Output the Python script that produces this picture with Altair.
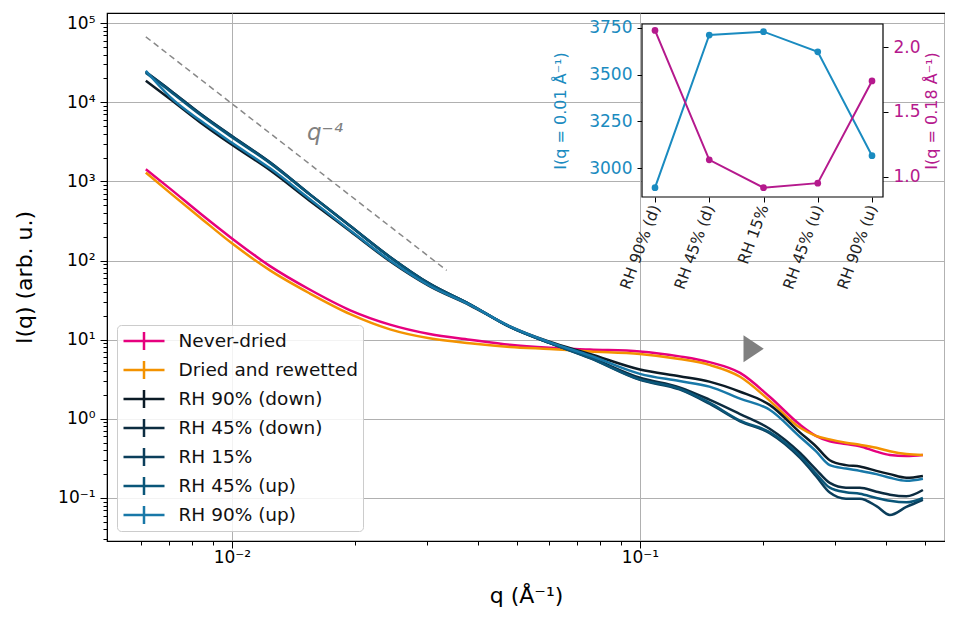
import altair as alt
import pandas as pd

# ---------------- data ----------------
q = [0.00615, 0.00705, 0.00835, 0.0100, 0.0124, 0.0155, 0.0195, 0.0244, 0.0305,
     0.0383, 0.048, 0.060, 0.0754, 0.100, 0.125, 0.148, 0.176, 0.208, 0.247,
     0.27, 0.292, 0.32, 0.346, 0.38, 0.41, 0.45, 0.494]

never_dried = [1420, 810, 395, 190, 85, 43, 23.5, 15.5, 11.8, 10.0, 8.6, 7.9, 7.5,
               7.1, 6.15, 5.2, 3.8, 1.9, 0.84, 0.61, 0.52, 0.48, 0.45, 0.385,
               0.35, 0.34, 0.35]
dried_rewetted = [1290, 715, 350, 165, 75, 38.5, 21, 13.5, 10.4, 9.0, 8.1, 7.6,
                  7.1, 6.6, 5.7, 4.8, 3.4, 1.7, 0.77, 0.61, 0.55, 0.50, 0.47,
                  0.43, 0.39, 0.36, 0.35]
rh90_down = [18700, 11000, 5600, 2900, 1380, 570, 234, 98, 47.5, 27.2, 14.7, 9.4,
             6.6, 4.2, 3.45, 2.95, 2.2, 1.5, 0.67, 0.45, 0.30, 0.26, 0.25, 0.22,
             0.20, 0.18, 0.19]
rh45_down = [24000, 14200, 7200, 3710, 1730, 690, 273, 111, 51, 28, 14.5, 9.1,
             6.0, 3.3, 2.5, 1.75, 1.15, 0.75, 0.37, 0.23, 0.155, 0.135, 0.135,
             0.12, 0.11, 0.105, 0.126]
rh15 = [24100, 14200, 7200, 3730, 1740, 690, 273, 111, 51, 28, 14.5, 9.1, 5.85,
        3.1, 2.35, 1.55, 0.93, 0.66, 0.32, 0.19, 0.117, 0.098, 0.098, 0.079,
        0.061, 0.077, 0.095]
rh45_up = [23400, 13800, 7000, 3620, 1700, 685, 272, 110, 50.5, 28, 14.5, 9.1,
           5.9, 3.15, 2.4, 1.6, 0.95, 0.68, 0.34, 0.205, 0.135, 0.118, 0.113,
           0.10, 0.092, 0.088, 0.10]
rh90_up = [25000, 11700, 5900, 3070, 1460, 600, 240, 100, 48, 27.5, 14.7, 9.3,
           6.3, 3.7, 3.0, 2.55, 1.8, 1.3, 0.59, 0.39, 0.26, 0.235, 0.22, 0.20,
           0.18, 0.165, 0.175]

names = ["Never-dried", "Dried and rewetted", "RH 90% (down)", "RH 45% (down)",
         "RH 15%", "RH 45% (up)", "RH 90% (up)"]
series = [never_dried, dried_rewetted, rh90_down, rh45_down, rh15, rh45_up, rh90_up]
colors = ["#e6007e", "#f39200", "#0b1b26", "#0c2c40", "#0b3e5b", "#0a5679", "#1878a8"]

guide_q = [0.00615, 0.0336]
guide_I = [67000, 75]

inset_cats = ["RH 90% (d)", "RH 45% (d)", "RH 15%", "RH 45% (u)", "RH 90% (u)"]
inset_low = [2895, 3712, 3730, 3622, 3066]
inset_high = [2.13, 1.13, 0.915, 0.95, 1.74]

# ---------------- tables ----------------
rows = []
for name, vals in zip(names, series):
    for qi, vi in zip(q, vals):
        rows.append({"series": name, "q": qi, "I": vi})
df = pd.DataFrame(rows)
guide_df = pd.DataFrame({"q": guide_q, "I": guide_I})
inset_df = pd.DataFrame({"cat": inset_cats, "low": inset_low, "high": inset_high})

# ---------------- geometry ----------------
W, H = 838, 528
QMIN, QMAX = 0.00494, 0.5596
IMIN, IMAX = 0.0286, 1.34e5
BLUE = "#1a8bc0"
MAG = "#b5198d"
FONT = "DejaVu Sans"

major = "abs(log(datum.value)/LN10 - round(log(datum.value)/LN10)) < 0.001"
sup = "['⁻²','⁻¹','⁰','¹','²','³','⁴','⁵']"
label_expr = f"({major}) ? '10' + {sup}[round(log(datum.value)/LN10) + 2] : ''"

x_ticks = [m * 0.001 for m in range(6, 10)] + [m * 0.01 for m in range(1, 10)] + \
          [m * 0.1 for m in range(1, 6)]
y_ticks = []
for k in range(-2, 5):
    for m in range(1, 10):
        v = m * 10 ** k
        if IMIN <= v <= IMAX:
            y_ticks.append(v)
y_ticks.append(1e5)

common_axis = dict(
    labelExpr=label_expr, grid=True, gridColor="#b0b0b0", gridWidth=1,
    gridOpacity={"condition": {"test": major, "value": 1}, "value": 0},
    tickSize={"condition": {"test": major, "value": 7}, "value": 4},
    tickColor="black", domainColor="black", labelColor="black", titleColor="black",
    labelFontSize=17, titleFontSize=22, titleFontWeight="normal",
    labelOverlap=False, labelFlush=False, labelFont=FONT, titleFont=FONT,
)
xaxis = alt.Axis(values=x_ticks, title="q (Å⁻¹)", orient="bottom",
                 labelPadding=1, titlePadding=20, **common_axis)
yaxis = alt.Axis(values=y_ticks, title="I(q) (arb. u.)", orient="left",
                 labelPadding=5, titlePadding=21, **common_axis)

xs = alt.Scale(type="log", domain=[QMIN, QMAX], nice=False)
ys = alt.Scale(type="log", domain=[IMIN, IMAX], nice=False)

lines = alt.Chart(df).mark_line(strokeWidth=2.5, interpolate="monotone", clip=True).encode(
    x=alt.X("q:Q", scale=xs, axis=xaxis),
    y=alt.Y("I:Q", scale=ys, axis=yaxis),
    color=alt.Color(
        "series:N",
        scale=alt.Scale(domain=names, range=colors),
        sort=names,
        legend=alt.Legend(
            title=None, orient="none", legendX=10, legendY=312,
            fillColor="rgba(255,255,255,0.85)", strokeColor="#cccccc", cornerRadius=4,
            padding=5, labelFontSize=18.5, labelFont=FONT, labelColor="#111111",
            labelLimit=300, symbolType="M-1,0L1,0M0,-0.44L0,0.44", symbolSize=1681,
            symbolStrokeWidth=2.5, clipHeight=22, rowPadding=7, symbolOffset=0,
            labelOffset=12.5,
        ),
    ),
)

guide = alt.Chart(guide_df).mark_line(color="#888888", strokeDash=[6, 4], strokeWidth=1.5).encode(
    x="q:Q", y="I:Q")

qtext = alt.Chart(pd.DataFrame({"q": [0.0169], "I": [4100], "t": ["q⁻⁴"]})).mark_text(
    fontSize=23, fontStyle="italic", color="#808080", font=FONT).encode(
    x="q:Q", y="I:Q", text="t:N")

tri = alt.Chart(pd.DataFrame({"q": [0.19], "I": [7.7]})).mark_point(
    shape="M-0.75,-1L0.75,0L-0.75,1Z", size=729, filled=True, color="#808080", opacity=1).encode(
    x="q:Q", y="I:Q")

main = alt.layer(lines, guide, qtext, tri)

# ---------------- inset ----------------
IL, IR, IT, IB = 535, 776, 11, 184
inset_x_axis = alt.Axis(orient="bottom", offset=-(H - IB), title=None, labelAngle=290,
                        labelAlign="right", labelBaseline="middle", labelFontSize=15.5,
                        labelColor="#222222", labelFont=FONT, tickSize=5, tickColor="black",
                        labelPadding=3, domain=False, grid=False)
xs_in = alt.Scale(domain=inset_cats, range=[548, 765], padding=0)

frame = alt.Chart(pd.DataFrame({"a": [0]})).mark_rect(
    fill="white", stroke="black", strokeWidth=1.2).encode(
    x=alt.value(IL), x2=alt.value(IR), y=alt.value(IT), y2=alt.value(IB))

blue = alt.Chart(inset_df).mark_line(
    color=BLUE, strokeWidth=2,
    point=alt.OverlayMarkDef(color=BLUE, size=45, filled=True, opacity=1)).encode(
    x=alt.X("cat:N", sort=inset_cats, scale=xs_in, axis=inset_x_axis),
    y=alt.Y("low:Q", scale=alt.Scale(domain=[2845, 3771], range=[IB, IT], nice=False, zero=False),
            axis=alt.Axis(orient="left", offset=-IL, values=[3000, 3250, 3500, 3750], format="d",
                          title="I(q = 0.01 Å⁻¹)", titleColor=BLUE, titleFontSize=16,
                          titleFontWeight="normal", titleFont=FONT, labelColor=BLUE,
                          labelFontSize=17, labelFont=FONT, tickSize=5, tickColor="black",
                          labelPadding=5, titlePadding=20, domain=False, grid=False)),
)

magenta = alt.Chart(inset_df).mark_line(
    color=MAG, strokeWidth=2,
    point=alt.OverlayMarkDef(color=MAG, size=45, filled=True, opacity=1)).encode(
    x=alt.X("cat:N", sort=inset_cats, scale=xs_in, axis=inset_x_axis),
    y=alt.Y("high:Q", scale=alt.Scale(domain=[0.843, 2.18], range=[IB, IT], nice=False, zero=False),
            axis=alt.Axis(orient="right", offset=-(W - IR), values=[1.0, 1.5, 2.0], format=".1f",
                          title="I(q = 0.18 Å⁻¹)", titleColor=MAG, titleFontSize=16,
                          titleAngle=270, titleBaseline="top", titleFontWeight="normal",
                          titleFont=FONT, labelColor=MAG, labelFontSize=17, labelFont=FONT,
                          tickSize=5, tickColor="black", labelPadding=5, titlePadding=3,
                          domain=False, grid=False)),
)

inset = alt.layer(frame, blue, magenta).resolve_scale(y="independent")

chart = alt.layer(main, inset).resolve_scale(x="independent", y="independent").properties(
    width=W, height=H,
    autosize=alt.AutoSizeParams(type="none"),
    padding={"left": 99, "top": 5, "right": 0, "bottom": 66},
).configure(font=FONT).configure_view(stroke="black", strokeWidth=1.2)

chart.save("out.html", embed_options={"renderer": "svg", "actions": False})
